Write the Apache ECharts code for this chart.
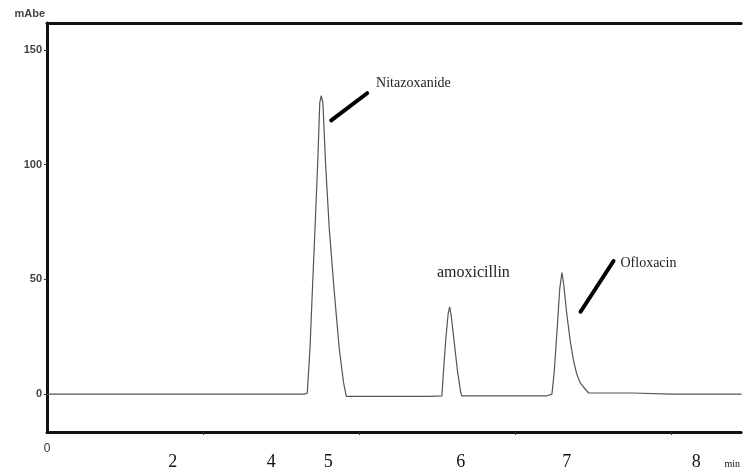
<!DOCTYPE html>
<html>
<head>
<meta charset="utf-8">
<script src="https://cdn.jsdelivr.net/npm/echarts@6/dist/echarts.min.js"></script>
<style>
    html, body { margin: 0; padding: 0; background: #fff; }
    #chromatogram { width: 743px; height: 472px; }
</style>
</head>
<body>
<div id="chromatogram"></div>
<script>
//色谱数据（时间轴单位：原仪器刻度）
var traceTime = [
    0, 3.30, 3.335, 3.37, 3.40, 3.434, 3.47, 3.495, 3.514, 3.535, 3.57, 3.617, 3.68, 3.744, 3.80, 3.835,
    4.9, 5.06, 5.08, 5.11, 5.14, 5.159, 5.18, 5.22, 5.26, 5.30, 5.315, 6.40,
    6.47, 6.50, 6.54, 6.57, 6.598, 6.62, 6.66, 6.705, 6.75, 6.786, 6.83, 6.876, 6.94, 7.5, 8.0, 8.9
];
var traceSignal = [
    0, 0, 0.5, 20, 45, 72, 102, 127, 130, 127, 100, 72, 45, 20, 5, -1,
    -1, -0.8, 10, 24, 35, 38, 34, 22, 10, 1, -0.8, -0.8,
    0, 10, 30, 46, 53, 48, 35, 23, 14, 9, 5, 3, 0.5, 0.5, 0, 0
];
var peakNames = ["Nitazoxanide", "amoxicillin", "Ofloxacin"];
var yTicks = [0, 50, 100, 150];
var xTicks = [2, 4, 6, 8];
var xZeroLabel = [0];
var serifLabels = ["2", "4", "5", "6", "7", "8", "min"];
var serifLabelAt = [1.61, 2.875, 3.604, 5.30, 6.66, 8.32, 8.78];

var tracePoints = [];
for (var i = 0; i < traceTime.length; i++) {
    tracePoints.push([traceTime[i], traceSignal[i]]);
}

//初始化图表实例
var chroma = echarts.init(document.getElementById("chromatogram"));

var option = {
    animation: false,
    backgroundColor: "#fff",
    grid: {
        left: 47,
        top: 23,
        right: 0,
        bottom: 40
    },
    xAxis: [
        {
            type: "value",
            min: 0,
            max: 8.894,
            position: "bottom",
            splitLine: { show: false },
            axisLine: { onZero: false, lineStyle: { color: "#111", width: 3 } },
            axisTick: { customValues: xTicks, length: 3, lineStyle: { color: "#333", width: 1 } },
            axisLabel: {
                customValues: xZeroLabel,
                margin: 11,
                fontFamily: "Liberation Sans",
                fontSize: 12,
                color: "#333"
            }
        },
        {
            type: "value",
            min: 0,
            max: 8.894,
            position: "bottom",
            splitLine: { show: false },
            axisLine: { show: false, onZero: false },
            axisTick: { show: false },
            axisLabel: {
                customValues: serifLabelAt,
                margin: 21,
                fontFamily: "Liberation Serif",
                fontSize: 18,
                color: "#111",
                formatter: function(v) {
                    var idx = serifLabelAt.indexOf(v);
                    var t = serifLabels[idx];
                    return t === "min" ? "{s|min}" : t;
                },
                rich: {
                    s: { fontFamily: "Liberation Serif", fontSize: 10, color: "#111", padding: [6, 0, 0, 0] }
                }
            }
        },
        {
            type: "value",
            min: 0,
            max: 8.894,
            position: "top",
            splitLine: { show: false },
            axisLine: { onZero: false, lineStyle: { color: "#111", width: 3 } },
            axisTick: { show: false },
            axisLabel: { show: false }
        }
    ],
    yAxis: {
        type: "value",
        min: -16.5,
        max: 161.7,
        name: "mAbe",
        nameLocation: "end",
        nameGap: 4,
        nameTextStyle: {
            align: "right",
            fontFamily: "Liberation Sans",
            fontWeight: "bold",
            fontSize: 11,
            color: "#444",
            padding: [0, 2, 0, 0]
        },
        splitLine: { show: false },
        axisLine: { onZero: false, lineStyle: { color: "#111", width: 3 } },
        axisTick: { customValues: yTicks, length: 3, lineStyle: { color: "#333" } },
        axisLabel: {
            customValues: yTicks,
            margin: 5,
            fontFamily: "Liberation Sans",
            fontWeight: "bold",
            fontSize: 11,
            color: "#444"
        }
    },
    series: [
        {
            name: "trace",
            type: "line",
            xAxisIndex: 0,
            data: tracePoints,
            showSymbol: false,
            symbol: "none",
            lineStyle: { color: "#555", width: 1.2 },
            markLine: {
                silent: true,
                symbol: "none",
                label: { show: false },
                lineStyle: { color: "#000", width: 4, type: "solid", cap: "round" },
                data: [
                    [{ coord: [4.102, 131.1] }, { coord: [3.642, 119.3] }],
                    [{ coord: [7.259, 58.0] }, { coord: [6.837, 35.9] }]
                ]
            },
            markPoint: {
                silent: true,
                symbol: "circle",
                symbolSize: 0,
                label: {
                    show: true,
                    position: "right",
                    distance: 0,
                    formatter: "{b}",
                    fontFamily: "Liberation Serif",
                    fontSize: 14,
                    color: "#222"
                },
                data: [
                    { name: peakNames[0], coord: [4.217, 135.4] },
                    { name: peakNames[1], coord: [4.997, 52.8], label: { fontSize: 16 } },
                    { name: peakNames[2], coord: [7.348, 57.2] }
                ]
            }
        }
    ]
};

chroma.setOption(option);
</script>
</body>
</html>
